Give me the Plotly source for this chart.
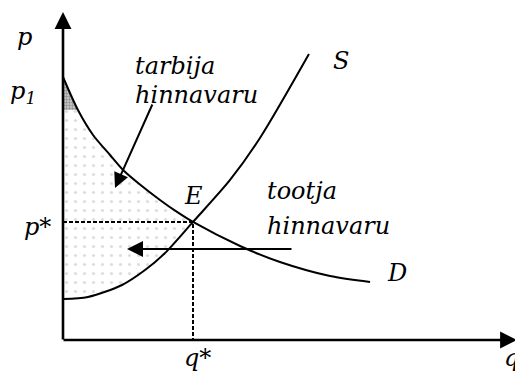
import plotly.graph_objects as go

# ---- data ----
q_demand = [0, 1.15, 2.31, 3.62, 4.62, 5.92, 7.46, 8.77, 10.0, 13.62, 16.69, 20.54, 23.62]
p_demand = [20.23, 17.69, 15.77, 14.23, 13.08, 11.96, 10.77, 9.85, 9.08, 7.23, 6.0, 4.92, 4.46]
q_supply = [0, 1.92, 4.54, 6.31, 7.85, 10.0, 12.85, 15.15, 18.92]
p_supply = [3.15, 3.31, 4.23, 5.38, 6.69, 9.08, 12.31, 15.54, 22.0]
q_star = 10.0
p_star = 9.08

PAGE_MARGIN = 8  # default body margin of the html page
W, H = 523 - PAGE_MARGIN, 377 - PAGE_MARGIN
OX, OY, S = 63, 340, 13.0  # pixel origin (window coords) and px per unit


def dx(px):
    return (px - OX) / S


def dy(py):
    return (OY - py) / S


FONT = "DejaVu Serif"

fig = go.Figure()

# surplus area (stippled)
dq = [q for q in q_demand if q <= q_star]
dp = p_demand[:len(dq)]
sq = [q for q in q_supply if q <= q_star]
sp = p_supply[:len(sq)]
fig.add_trace(go.Scatter(
    x=dq + sq[::-1], y=dp + sp[::-1], mode="lines", fill="toself",
    line=dict(width=0), fillcolor="rgba(0,0,0,0)",
    fillpattern=dict(shape=".", fgcolor="#bbbbbb", bgcolor="rgba(0,0,0,0)", size=9, solidity=0.1),
    hoverinfo="skip", showlegend=False))

# dark small area at p1
fig.add_trace(go.Scatter(
    x=[q_demand[0], q_demand[1], 0], y=[p_demand[0], p_demand[1], p_demand[1]],
    mode="lines", fill="toself", line=dict(width=0), fillcolor="#b8b8b8",
    fillpattern=dict(shape=".", fgcolor="#555555", bgcolor="#cfcfcf", size=3, solidity=0.5),
    hoverinfo="skip", showlegend=False))

# dashed guides
fig.add_trace(go.Scatter(x=[0, q_star, q_star], y=[p_star, p_star, 0], mode="lines",
                         line=dict(color="black", width=2, dash="4px,2px"),
                         hoverinfo="skip", showlegend=False))

# demand and supply
fig.add_trace(go.Scatter(x=q_demand, y=p_demand, mode="lines",
                         line=dict(color="black", width=2, shape="spline", smoothing=0.8),
                         hoverinfo="skip", showlegend=False))
fig.add_trace(go.Scatter(x=q_supply, y=p_supply, mode="lines",
                         line=dict(color="black", width=2, shape="spline", smoothing=0.8),
                         hoverinfo="skip", showlegend=False))

ann = []


def arrow(x, y, ax, ay, width, size):
    ann.append(dict(x=x, y=y, ax=ax, ay=ay, xref="x", yref="y", axref="x", ayref="y",
                    text="", showarrow=True, arrowhead=2, arrowwidth=width,
                    arrowsize=size, arrowcolor="black"))


# axes
arrow(0, dy(12), 0, dy(OY + 1), 2.6, 1.3)
arrow(dx(517), 0, dx(OX - 1), 0, 2.6, 1.3)
# pointers
arrow(dx(127), dy(249), dx(293), dy(249), 2, 1.6)
arrow(dx(115), dy(188), dx(153), dy(103), 2, 1.5)


def label(text, px, py, anchor="left", size=24):
    ann.append(dict(x=dx(px), y=dy(py), xref="x", yref="y", text=text, showarrow=False,
                    xanchor=anchor, yanchor="middle",
                    font=dict(family=FONT, size=size, color="black", style="italic")))


label("p", 24, 37, "center")
label("p<sub>1</sub>", 8, 92)
label("tarbija", 133, 66)
label("hinnavaru", 133, 95)
label("S", 331, 61)
label("E", 193, 196, "center")
label("tootja", 265, 191)
label("hinnavaru", 265, 226)
label("D", 385, 273)
label("p*", 22, 227)
label("q*", 182, 358)
label("q", 502, 358)

fig.update_layout(
    width=W, height=H, margin=dict(l=0, r=0, t=0, b=0),
    paper_bgcolor="white", plot_bgcolor="white",
    xaxis=dict(range=[dx(PAGE_MARGIN), dx(PAGE_MARGIN + W)], visible=False, fixedrange=True),
    yaxis=dict(range=[dy(PAGE_MARGIN + H), dy(PAGE_MARGIN)], visible=False, fixedrange=True),
    annotations=ann, showlegend=False,
)

fig.write_html("out.html", config={"displayModeBar": False})
